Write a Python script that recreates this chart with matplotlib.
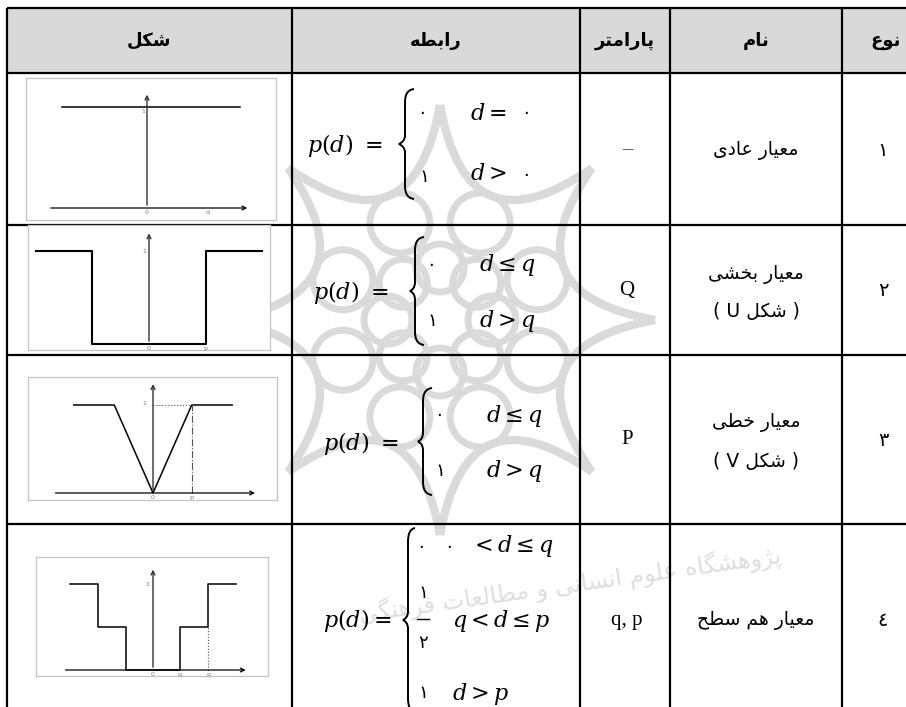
import numpy as np
import matplotlib
matplotlib.use('Agg')
import matplotlib.pyplot as plt
from matplotlib.path import Path
from matplotlib.patches import PathPatch, Rectangle, Circle

plt.rcParams['mathtext.fontset'] = 'dejavuserif'

# table content (columns read right to left)
headers = ['شکل', 'رابطه', 'پارامتر', 'نام', 'نوع']
types = ['١', '٢', '٣', '٤']
names = ['معیار عادی', 'معیار بخشی', 'معیار خطی', 'معیار هم سطح']
shape_tags = [None, 'U', 'V', None]
params = ['–', 'Q', 'P', 'q, p']

# p(d) curves of the four criteria, level 1 = one unit
normal_x = [-0.84, 0.92]
normal_y = [1, 1]
u_x = [-1.22, -0.61, -0.61, 0.61, 0.61, 1.22]
u_y = [1, 1, 0, 0, 1, 1]
v_x = [-0.9, -0.44, 0, 0.44, 0.9]
v_y = [1, 1, 0, 1, 1]
level_x = [-0.965, -0.64, -0.64, -0.314, -0.314, 0.314, 0.314, 0.64, 0.64, 0.965]
level_y = [1, 1, 0.5, 0.5, 0, 0, 0.5, 0.5, 1, 1]

# --- very small arabic shaper (presentation forms), matplotlib has none
FORMS = {
    'ا': ('\uFE8D', '\uFE8E', None, None),
    'ب': ('\uFE8F', '\uFE90', '\uFE91', '\uFE92'),
    'پ': ('\uFB56', '\uFB57', '\uFB58', '\uFB59'),
    'ت': ('\uFE95', '\uFE96', '\uFE97', '\uFE98'),
    'ح': ('\uFEA1', '\uFEA2', '\uFEA3', '\uFEA4'),
    'خ': ('\uFEA5', '\uFEA6', '\uFEA7', '\uFEA8'),
    'د': ('\uFEA9', '\uFEAA', None, None),
    'ر': ('\uFEAD', '\uFEAE', None, None),
    'ژ': ('\uFB8A', '\uFB8B', None, None),
    'س': ('\uFEB1', '\uFEB2', '\uFEB3', '\uFEB4'),
    'ش': ('\uFEB5', '\uFEB6', '\uFEB7', '\uFEB8'),
    'ط': ('\uFEC1', '\uFEC2', '\uFEC3', '\uFEC4'),
    'ع': ('\uFEC9', '\uFECA', '\uFECB', '\uFECC'),
    'ف': ('\uFED1', '\uFED2', '\uFED3', '\uFED4'),
    'ک': ('\uFB8E', '\uFB8F', '\uFB90', '\uFB91'),
    'گ': ('\uFB92', '\uFB93', '\uFB94', '\uFB95'),
    'ل': ('\uFEDD', '\uFEDE', '\uFEDF', '\uFEE0'),
    'م': ('\uFEE1', '\uFEE2', '\uFEE3', '\uFEE4'),
    'ن': ('\uFEE5', '\uFEE6', '\uFEE7', '\uFEE8'),
    'ه': ('\uFEE9', '\uFEEA', '\uFEEB', '\uFEEC'),
    'و': ('\uFEED', '\uFEEE', None, None),
    'ی': ('\uFBFC', '\uFBFD', '\uFBFE', '\uFBFF'),
}


def rtl(text):
    text = text.replace('\u064A', 'ی').replace('\u0643', 'ک')
    out = []
    for i, ch in enumerate(text):
        if ch not in FORMS:
            out.append(ch)
            continue
        prev = text[i - 1] if i > 0 else ''
        nxt = text[i + 1] if i + 1 < len(text) else ''
        iso, fin, ini, med = FORMS[ch]
        jp = prev in FORMS and FORMS[prev][2] is not None
        jn = nxt in FORMS and ini is not None
        if jp and jn:
            out.append(med)
        elif jp:
            out.append(fin)
        elif jn:
            out.append(ini)
        else:
            out.append(iso)
    return ''.join(out)[::-1]


W, H = 906, 707
fig = plt.figure(figsize=(W / 100, H / 100), dpi=100)
ax = fig.add_axes([0, 0, 1, 1])
ax.set_xlim(0, W)
ax.set_ylim(H, 0)
ax.axis('off')

col_x = [7, 292, 580, 670, 842, 930]
row_y = [8, 73, 225, 355, 524, 740]
text_y = [150, 291, 440, 620]

# faint watermark: eight pointed star of arches with rings of circles
wm = '#dadada'
cx, cy = 440, 320
tips = [(cx + 215 * np.cos(np.pi / 4 * k), cy + 215 * np.sin(np.pi / 4 * k)) for k in range(9)]
for k in range(8):
    m = np.pi / 4 * k + np.pi / 8
    ctrl = (cx + 70 * np.cos(m), cy + 70 * np.sin(m))
    ax.add_patch(PathPatch(Path([tips[k], ctrl, tips[k + 1]], [Path.MOVETO, Path.CURVE3, Path.CURVE3]),
                           fc='none', ec=wm, lw=6, zorder=0))
    ax.add_patch(Circle((cx + 105 * np.cos(m), cy + 105 * np.sin(m)), 30, fill=False, ec=wm, lw=5, zorder=0))
    a = np.pi / 4 * k
    ax.add_patch(Circle((cx + 52 * np.cos(a), cy + 52 * np.sin(a)), 24, fill=False, ec=wm, lw=5, zorder=0))
ax.text(570, 585, rtl('پژوهشگاه علوم انسانی و مطالعات فرهنگی'), fontsize=17, color='#dedede',
        rotation=8, ha='center', va='center', zorder=0)

# header band and grid
ax.add_patch(Rectangle((col_x[0], row_y[0]), W - col_x[0], row_y[1] - row_y[0], fc='#d9d9d9', ec='none', zorder=1))
for y in row_y[:5]:
    ax.plot([col_x[0], W], [y, y], color='black', lw=1.6, zorder=3, solid_capstyle='butt')
for x in col_x[:5]:
    ax.plot([x, x], [row_y[0], H], color='black', lw=1.6, zorder=3, solid_capstyle='butt')

for i, h in enumerate(headers):
    ax.text((col_x[i] + col_x[i + 1]) / 2, 41, rtl(h), fontsize=13, fontweight='bold',
            ha='center', va='center', zorder=4)

for i in range(4):
    y = text_y[i]
    ax.text(883, y, types[i], fontsize=14, ha='center', va='center', zorder=4)
    pcolor = '#444444' if params[i] == '–' else 'black'
    ax.text(627, y, params[i], family='Liberation Serif', fontsize=15, color=pcolor,
            ha='center', va='center', zorder=4)
    if shape_tags[i] is None:
        ax.text(756, y, rtl(names[i]), fontsize=13.5, ha='center', va='center', zorder=4)
    else:
        ax.text(756, y - 17, rtl(names[i]), fontsize=13.5, ha='center', va='center', zorder=4)
        ax.text(756, y + 21, '( ' + shape_tags[i] + ' ' + rtl('شکل') + ' )', fontsize=13.5,
                ha='center', va='center', zorder=4)


# --- formulas
def brace(xt, xs, xe, y0, y1):
    ym = (y0 + y1) / 2
    verts = [(xe, y0), (xs + 2, y0 + 1), (xs, y0 + 6), (xs, y0 + 14),
             (xs, ym - 9),
             (xs, ym - 3), (xt + 2, ym - 1), (xt, ym),
             (xt + 2, ym + 1), (xs, ym + 3), (xs, ym + 9),
             (xs, y1 - 14),
             (xs, y1 - 6), (xs + 2, y1 - 1), (xe, y1)]
    codes = [Path.MOVETO, Path.CURVE4, Path.CURVE4, Path.CURVE4, Path.LINETO,
             Path.CURVE4, Path.CURVE4, Path.CURVE4, Path.CURVE4, Path.CURVE4, Path.CURVE4,
             Path.LINETO, Path.CURVE4, Path.CURVE4, Path.CURVE4]
    ax.add_patch(PathPatch(Path(verts, codes), fc='none', ec='black', lw=1.4, zorder=4))


MS = 16
DS = 13


def math(x, y, s):
    ax.text(x, y, s, fontsize=MS, ha='left', va='baseline', zorder=4)


def digit(x, y, s):
    ax.text(x, y, s, fontsize=DS, ha='center', va='center', zorder=4)


# row 1
math(307, 152, r'$p(d)\ =$')
brace(399, 405, 414, 89, 199)
digit(422, 113, '٠')
digit(424, 177, '١')
math(470, 120, r'$d =$')
digit(526, 113, '٠')
math(470, 180, r'$d >$')
digit(526, 175, '٠')

# row 2
math(313, 299, r'$p(d)\ =$')
brace(410, 415, 424, 237, 345)
digit(431, 265, '٠')
digit(432, 321, '١')
math(479, 271, r'$d \leq q$')
math(479, 327, r'$d > q$')

# row 3
math(323, 450, r'$p(d)\ =$')
brace(418, 423, 432, 388, 495)
digit(439, 415, '٠')
digit(440, 471, '١')
math(486, 422, r'$d \leq q$')
math(486, 477, r'$d > q$')

# row 4
math(323, 627, r'$p(d) =$')
brace(403, 408, 415, 528, 712)
digit(421, 547, '٠')
digit(449, 547, '٠')
math(470, 552, r'$< d \leq q$')
digit(423, 593, '١')
ax.plot([417, 429], [619, 619], color='black', lw=1, zorder=4)
digit(423, 643, '٢')
math(452, 627, r'$q < d \leq p$')
digit(423, 693, '١')
math(452, 700, r'$d > p$')


# --- small criterion plots
def mini(box, origin, unit, xaxis, ytop):
    x0, y0, x1, y1 = box
    ox, oy = origin
    a = fig.add_axes([x0 / W, 1 - y1 / H, (x1 - x0) / W, (y1 - y0) / H])
    a.set_xlim((x0 - ox) / unit, (x1 - ox) / unit)
    a.set_ylim((oy - y1) / unit, (oy - y0) / unit)
    a.set_xticks([])
    a.set_yticks([])
    for s in a.spines.values():
        s.set_color('#c4c4c4')
        s.set_linewidth(0.9)
    a.annotate('', xy=(xaxis[1], 0), xytext=(xaxis[0], 0),
               arrowprops=dict(arrowstyle='->', color='black', lw=0.9, mutation_scale=7))
    a.annotate('', xy=(0, ytop), xytext=(0, 0),
               arrowprops=dict(arrowstyle='->', color='#333333', lw=1.0, mutation_scale=7))
    return a


def tiny(a, x, y, s):
    a.text(x, y, s, fontsize=4.5, color='#777777', ha='center', va='top')


a1 = mini((26, 78, 276, 220), (147, 208), 101, (-0.98, 1.02), 1.15)
a1.plot(normal_x, normal_y, color='black', lw=1.1)
tiny(a1, -0.04, 0.98, '1')
tiny(a1, 0, -0.02, '0')
tiny(a1, 0.6, -0.02, 'd')

a2 = mini((28, 225, 270, 350), (149, 344), 93, (-1.28, 1.31), 1.22)
a2.plot(u_x, u_y, color='black', lw=1.5)
tiny(a2, -0.05, 1.02, '1')
tiny(a2, 0, -0.02, '0')
tiny(a2, 0.61, -0.02, 'p')

a3 = mini((28, 377, 277, 500), (153, 493), 88, (-1.14, 1.19), 1.27)
a3.plot(v_x, v_y, color='black', lw=1.1)
a3.plot([0, v_x[3]], [1, 1], color='#555555', lw=0.8, ls=':')
a3.plot([v_x[3], v_x[3]], [0, 1], color='#555555', lw=0.8, ls='-.')
tiny(a3, -0.1, 1.04, '1')
tiny(a3, 0, -0.02, '0')
tiny(a3, 0.44, -0.02, 'p')

a4 = mini((36, 557, 268, 676), (153, 670), 86, (-1.05, 1.11), 1.2)
a4.plot(level_x, level_y, color='black', lw=1.1)
a4.plot([level_x[7], level_x[7]], [0, 0.5], color='#555555', lw=0.8, ls=':')
tiny(a4, -0.07, 1.02, '1')
tiny(a4, 0, -0.02, '0')
tiny(a4, 0.314, -0.02, 'q')
tiny(a4, 0.64, -0.02, 'p')

fig.savefig('out.png', dpi=100)
